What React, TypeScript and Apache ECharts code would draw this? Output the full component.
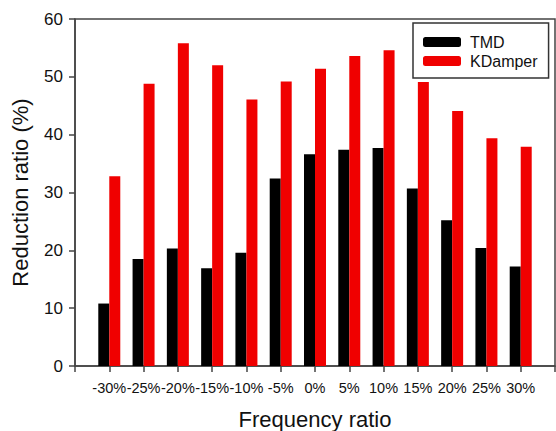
import React, { useEffect, useRef } from "react";
import * as echarts from "echarts";

const frequencyRatios = [-30, -25, -20, -15, -10, -5, 0, 5, 10, 15, 20, 25, 30];
const tmdValues = [10.8, 18.5, 20.3, 16.9, 19.6, 32.4, 36.6, 37.4, 37.7, 30.7, 25.2, 20.4, 17.2];
const kdamperValues = [32.8, 48.8, 55.8, 52.0, 46.1, 49.2, 51.4, 53.6, 54.6, 49.1, 44.1, 39.4, 37.9];
const yTicks = [0, 10, 20, 30, 40, 50, 60];

const FONT = "'Liberation Sans', Arial, sans-serif";

export default function App() {
  const ref = useRef<HTMLDivElement>(null);
  useEffect(() => {
    document.body.style.margin = "0";
    if (!ref.current) return;
    const chart = echarts.init(ref.current, null, { renderer: "svg" });
    chart.setOption({
      animation: false,
      backgroundColor: "#ffffff",
      textStyle: { fontFamily: FONT },
      grid: {
        left: 75,
        top: 19,
        right: 1,
        bottom: 65,
        show: true,
        borderColor: "#444",
        borderWidth: 1.5,
        containLabel: false,
        outerBoundsMode: "none",
      },
      legend: {
        orient: "vertical",
        left: 413,
        top: 23,
        padding: [11, 11, 9, 10],
        itemGap: 3,
        itemWidth: 38,
        itemHeight: 10,
        borderColor: "#333",
        borderWidth: 1.5,
        textStyle: { fontSize: 16, color: "#111", fontFamily: FONT, padding: [0, 0, 0, 4] },
        data: [
          { name: "TMD", itemStyle: { color: "#000" } },
          { name: "KDamper", itemStyle: { color: "#f00000" } },
        ],
      },
      xAxis: {
        type: "value",
        min: -35,
        max: 35,
        interval: 5,
        splitLine: { show: false },
        axisLine: { show: true, onZero: false, lineStyle: { color: "#444", width: 1.5 } },
        axisTick: { show: true, length: 6, lineStyle: { color: "#444", width: 1.5 } },
        axisLabel: {
          fontSize: 14.5,
          color: "#111",
          margin: 14,
          fontFamily: FONT,
          formatter: (v: number) => (Math.abs(v) > 30 ? "" : `${v}%`),
        },
        name: "Frequency ratio",
        nameLocation: "middle",
        nameGap: 42,
        nameTextStyle: { fontSize: 22, color: "#111", fontFamily: FONT },
      },
      yAxis: {
        type: "value",
        min: yTicks[0],
        max: yTicks[yTicks.length - 1],
        interval: 10,
        splitLine: { show: false },
        axisLine: { show: true, onZero: false, lineStyle: { color: "#444", width: 1.5 } },
        axisTick: { show: true, length: 6, lineStyle: { color: "#444", width: 1.5 } },
        axisLabel: { fontSize: 17, color: "#111", margin: 12, fontFamily: FONT },
        name: "Reduction ratio (%)",
        nameLocation: "middle",
        nameGap: 44,
        nameTextStyle: { fontSize: 22, color: "#111", fontFamily: FONT },
      },
      series: [
        {
          name: "TMD",
          type: "bar",
          barWidth: 11,
          barGap: "0%",
          itemStyle: { color: "#000" },
          data: frequencyRatios.map((f, i) => [f, tmdValues[i]]),
        },
        {
          name: "KDamper",
          type: "bar",
          barWidth: 11,
          barGap: "0%",
          itemStyle: { color: "#f00000" },
          data: frequencyRatios.map((f, i) => [f, kdamperValues[i]]),
        },
      ],
    });
    return () => chart.dispose();
  }, []);
  return <div ref={ref} style={{ width: 556, height: 431 }} />;
}
